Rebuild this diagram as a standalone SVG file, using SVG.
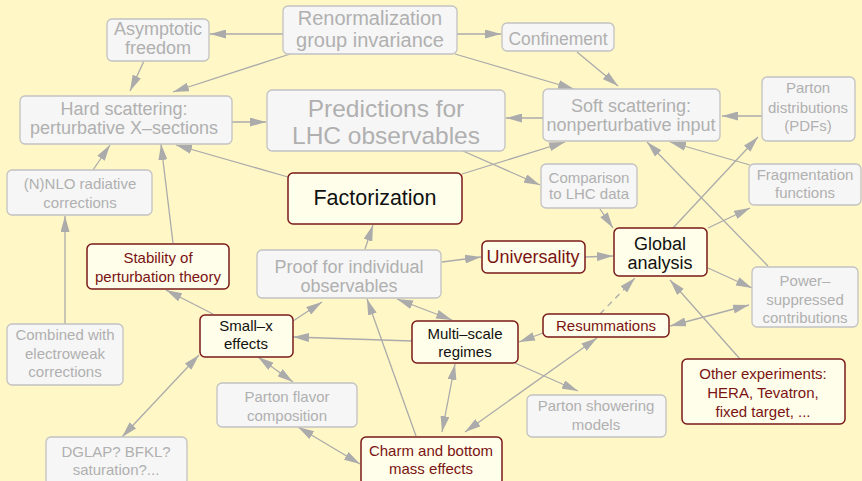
<svg xmlns="http://www.w3.org/2000/svg" width="862" height="481" viewBox="0 0 862 481">
<defs>
<marker id="ah" viewBox="0 0 16 9" refX="16" refY="4.5" markerWidth="16" markerHeight="9" markerUnits="userSpaceOnUse" orient="auto-start-reverse">
<path d="M0,0 L16,4.5 L0,9 z" fill="#ababab"/>
</marker>
<style>
text{font-family:"Liberation Sans",Arial,sans-serif;text-anchor:middle}
.g rect{fill:#f6f6f6;stroke:#c2c2c2;stroke-width:1.3}
.g text{fill:#b0b0b0}
.h rect{fill:#fffeea;stroke:#7a1a1a;stroke-width:1.5}
.h text{fill:#7a1414}
.h text.k{fill:#111}
.e path{fill:none;stroke:#ababab;stroke-width:1.3;marker-end:url(#ah)}
.e path.d{marker-start:url(#ah)}
.e path.s{stroke-dasharray:6,5}
.f15{font-size:15px}
.f18{font-size:18px}
</style>
</defs>
<rect width="862" height="481" fill="#fff7c6"/>
<g class="e" id="connectors">
<path d="M283,34 L210,34"/>
<path d="M290,54 L173,92"/>
<path d="M144,61 L130,91"/>
<path d="M457,34 L501,34"/>
<path d="M455,54 L574,89"/>
<path d="M577,52 L618,86"/>
<path d="M232,122 L266,122"/>
<path d="M543,118 L506,118"/>
<path d="M762,116 L722,116"/>
<path d="M750,165 L670,142"/>
<path d="M288,177 L176,145"/>
<path d="M462,174 L565,142"/>
<path d="M463,151 L540,185"/>
<path d="M600,209 L613,228"/>
<path d="M585,257 L613,256"/>
<path d="M442,262 L481,257"/>
<path d="M365,249 L373,225"/>
<path d="M673,228 L758,137"/>
<path d="M708,228 L750,208"/>
<path d="M708,268 L752,288"/>
<path d="M768,266 L647,142"/>
<path d="M740,359 L670,280"/>
<path class="d" d="M670,326 L749,305"/>
<path class="s" d="M600,314 L635,278"/>
<path d="M543,333 L519,342"/>
<path class="d" d="M465,432 L597,338"/>
<path d="M515,363 L578,391"/>
<path d="M412,341 L293,337"/>
<path class="d" d="M442,432 L455,364"/>
<path class="d" d="M397,299 L452,320"/>
<path d="M416,436 L367,299"/>
<path d="M293,321 L322,302"/>
<path d="M213,314 L166,290"/>
<path d="M173,243 L161,144"/>
<path d="M93,170 L110,145"/>
<path d="M65,324 L65,216"/>
<path class="d" d="M199,355 L122,437"/>
<path class="d" d="M258,357 L293,382"/>
<path class="d" d="M298,427 L360,464"/>
</g>
<g class="g" id="asymptotic"><rect x="107" y="19" width="102" height="42" rx="5"/><text class="f18" x="158" y="35">Asymptotic</text><text class="f18" x="158" y="54">freedom</text></g>
<g class="g" id="renormalization"><rect x="283" y="6" width="174" height="48" rx="5"/><text x="370" y="24.5" font-size="20">Renormalization</text><text x="370" y="47" font-size="20">group invariance</text></g>
<g class="g" id="confinement"><rect x="502" y="23" width="112" height="28" rx="5"/><text x="558" y="45" font-size="17.5">Confinement</text></g>
<g class="g" id="hard"><rect x="20" y="96" width="212" height="48" rx="5"/><text class="f18" x="124" y="115">Hard scattering:</text><text class="f18" x="124" y="134">perturbative X–sections</text></g>
<g class="g" id="predictions"><rect x="267" y="90" width="238" height="61" rx="5"/><text x="386" y="116.5" font-size="24.5">Predictions for</text><text x="386" y="144" font-size="24.5">LHC observables</text></g>
<g class="g" id="soft"><rect x="543" y="89" width="177" height="52" rx="5"/><text class="f18" x="631" y="112">Soft scattering:</text><text class="f18" x="631" y="131">nonperturbative input</text></g>
<g class="g" id="pdfs"><rect x="762" y="77" width="93" height="64" rx="5"/><text class="f15" x="808" y="93">Parton</text><text class="f15" x="808" y="113">distributions</text><text class="f15" x="808" y="131">(PDFs)</text></g>
<g class="g" id="nnlo"><rect x="7" y="170" width="145" height="45" rx="5"/><text class="f15" x="80" y="189">(N)NLO radiative</text><text class="f15" x="80" y="208">corrections</text></g>
<g class="g" id="comparison"><rect x="541" y="164" width="96" height="44" rx="5"/><text class="f15" x="589" y="183">Comparison</text><text class="f15" x="589" y="199">to LHC data</text></g>
<g class="g" id="fragmentation"><rect x="749" y="164" width="112" height="41" rx="5"/><text class="f15" x="805" y="180">Fragmentation</text><text class="f15" x="805" y="198">functions</text></g>
<g class="h" id="factorization"><rect x="288" y="173" width="174" height="51" rx="5"/><text class="k" x="375" y="205" font-size="21.5">Factorization</text></g>
<g class="h" id="stability"><rect x="87" y="244" width="142" height="45" rx="5"/><text class="f15" x="158" y="263">Stability of</text><text class="f15" x="158" y="282">perturbation theory</text></g>
<g class="g" id="proof"><rect x="257" y="250" width="184" height="48" rx="5"/><text class="f18" x="349" y="273">Proof for individual</text><text class="f18" x="349" y="292">observables</text></g>
<g class="h" id="universality"><rect x="482" y="241" width="103" height="32" rx="5"/><text class="f18" x="533" y="263">Universality</text></g>
<g class="h" id="global"><rect x="614" y="228" width="93" height="48" rx="5"/><text class="f18 k" x="660" y="250">Global</text><text class="f18 k" x="660" y="269">analysis</text></g>
<g class="g" id="power"><rect x="752" y="267" width="106" height="60" rx="5"/><text class="f15" x="805" y="286">Power–</text><text class="f15" x="805" y="305">suppressed</text><text class="f15" x="805" y="323">contributions</text></g>
<g class="h" id="resummations"><rect x="543" y="314" width="126" height="23" rx="5"/><text class="f15" x="606" y="331">Resummations</text></g>
<g class="h" id="other"><rect x="682" y="359" width="163" height="65" rx="5"/><text class="f15" x="763" y="379">Other experiments:</text><text class="f15" x="763" y="398">HERA, Tevatron,</text><text class="f15" x="763" y="417">fixed target, ...</text></g>
<g class="g" id="combined"><rect x="7" y="324" width="116" height="61" rx="5"/><text class="f15" x="65" y="340">Combined with</text><text class="f15" x="65" y="359">electroweak</text><text class="f15" x="65" y="377">corrections</text></g>
<g class="h" id="smallx"><rect x="200" y="315" width="93" height="42" rx="5"/><text class="f15 k" x="246" y="331">Small–x</text><text class="f15 k" x="246" y="349">effects</text></g>
<g class="g" id="dglap"><rect x="46" y="437" width="141" height="48" rx="5"/><text class="f15" x="116" y="457">DGLAP? BFKL?</text><text class="f15" x="116" y="475">saturation?...</text></g>
<g class="g" id="flavor"><rect x="217" y="383" width="140" height="44" rx="5"/><text class="f15" x="287" y="402">Parton flavor</text><text class="f15" x="287" y="421">composition</text></g>
<g class="h" id="multiscale"><rect x="412" y="321" width="106" height="42" rx="5"/><text class="f15 k" x="465" y="339">Multi–scale</text><text class="f15 k" x="465" y="357">regimes</text></g>
<g class="g" id="showering"><rect x="527" y="395" width="139" height="42" rx="5"/><text class="f15" x="596" y="411">Parton showering</text><text class="f15" x="596" y="430">models</text></g>
<g class="h" id="charm"><rect x="361" y="437" width="141" height="48" rx="5"/><text class="f15" x="431" y="456">Charm and bottom</text><text class="f15" x="431" y="474">mass effects</text></g>
</svg>
